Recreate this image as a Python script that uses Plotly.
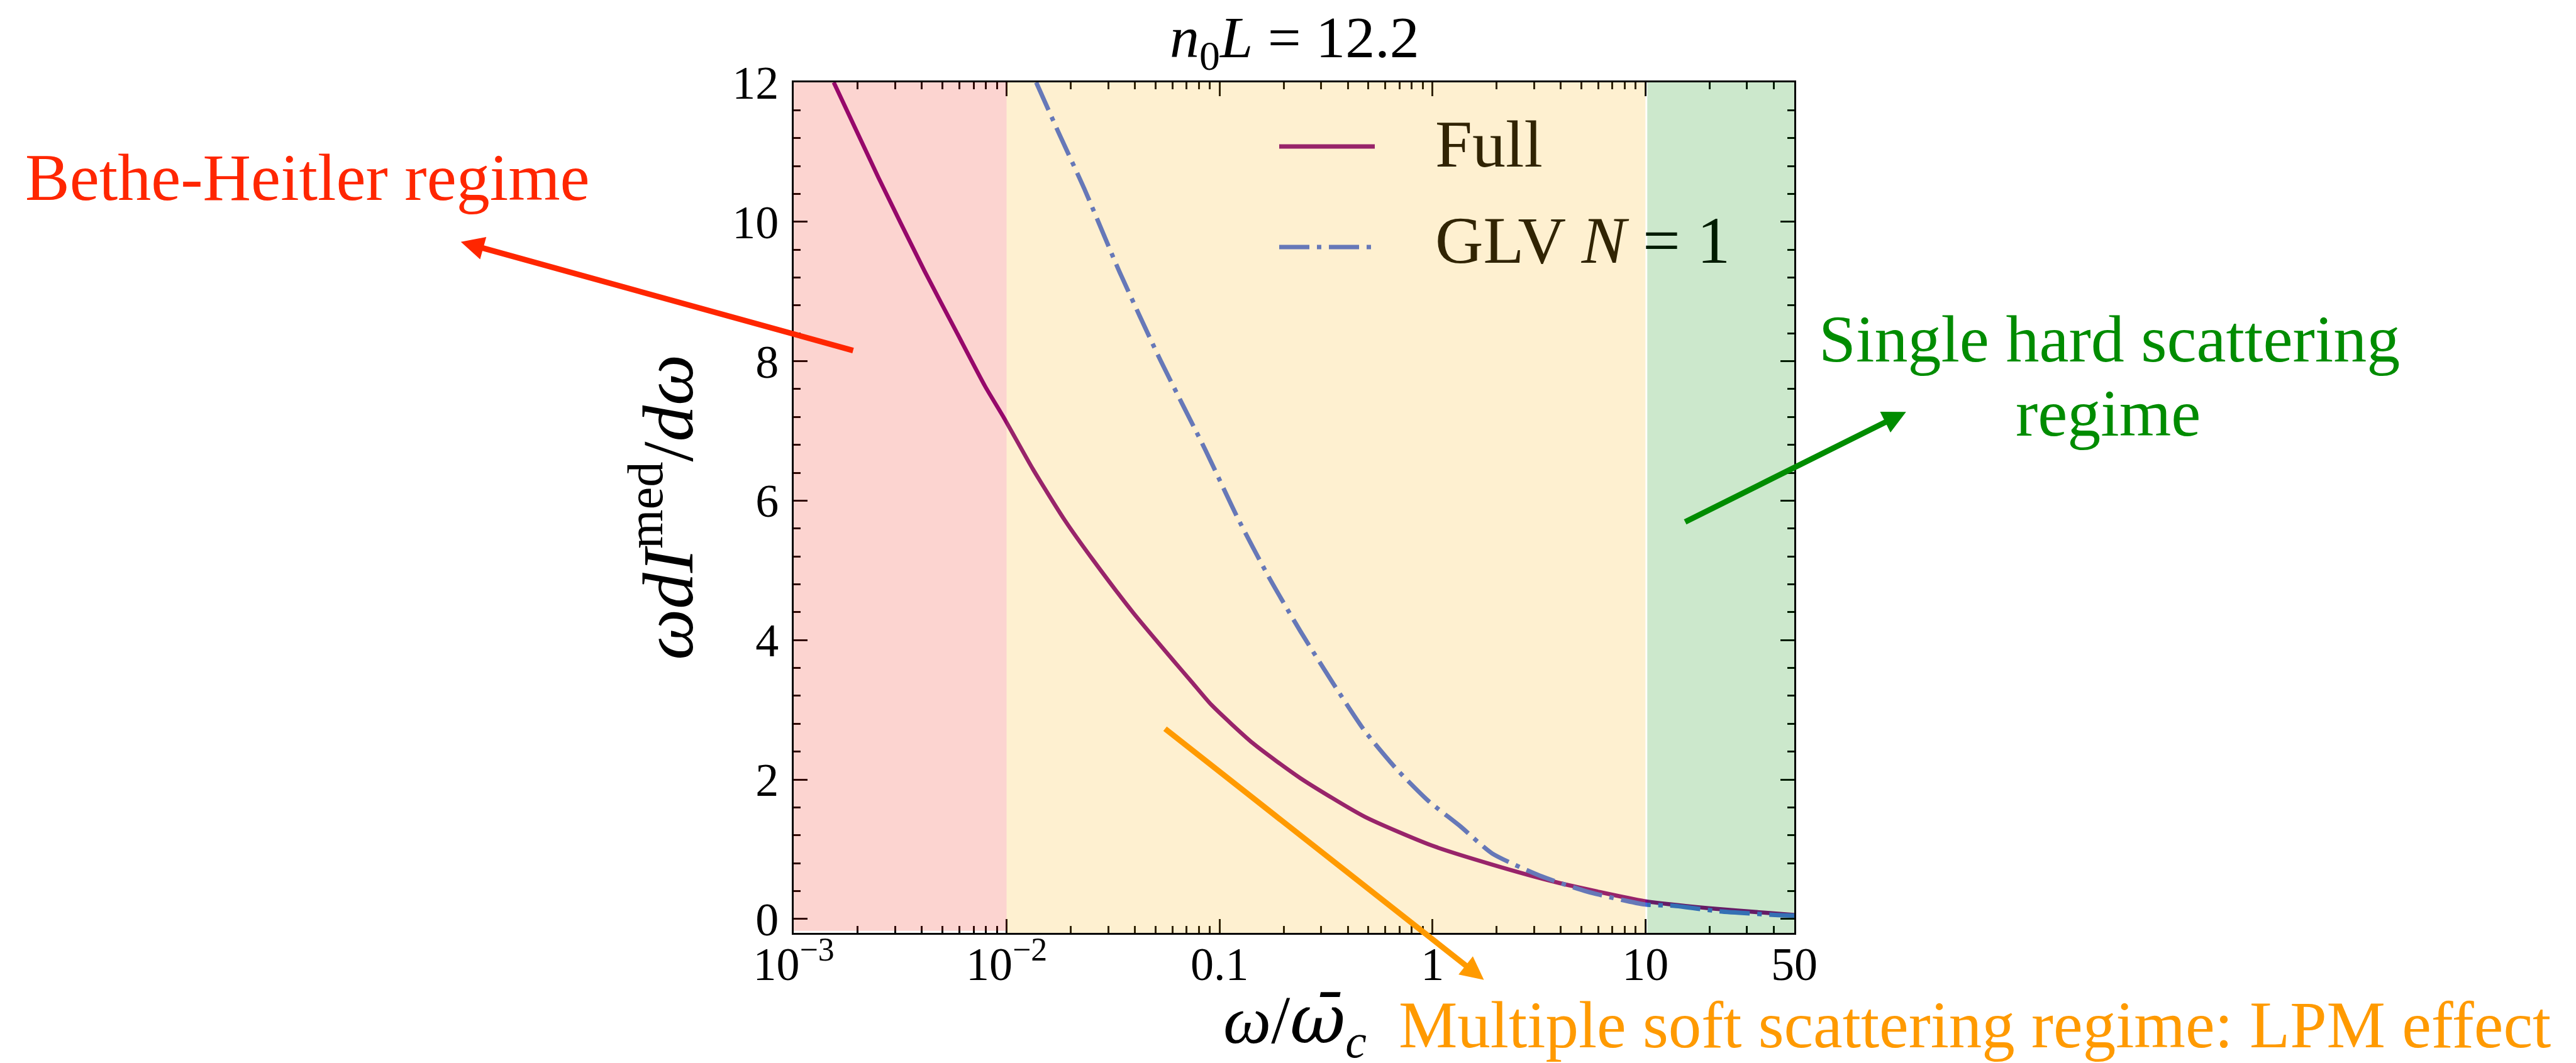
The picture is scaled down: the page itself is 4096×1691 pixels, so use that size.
import plotly.graph_objects as go

# ---------------- data ----------------
full_x = [0.001542, 0.002495, 0.004121, 0.005813, 0.007925, 0.009750, 0.01330,
          0.01875, 0.02559, 0.03936, 0.06053, 0.07447, 0.09162, 0.1434, 0.2404, 0.4797,
          0.9886, 1.905, 3.793, 9.968, 20.18, 36.81, 50.0]
full_y = [12.0, 10.64, 9.29, 8.42, 7.64, 7.18, 6.45,
          5.72, 5.14, 4.39, 3.71, 3.39, 3.07, 2.52, 2.016, 1.467,
          1.055, 0.78, 0.528, 0.254, 0.152, 0.088, 0.056]

glv_x = [0.01377, 0.01754, 0.02312, 0.03381, 0.05284, 0.08570, 0.1208, 0.1706,
         0.2404, 0.3396, 0.4797, 0.6776, 0.9550, 1.349, 1.905, 3.192, 5.358,
         9.968, 13.49, 22.23, 40.55, 50.0]
glv_y = [12.0, 11.28, 10.48, 9.29, 8.01, 6.73, 5.77, 4.90,
         4.12, 3.39, 2.70, 2.15, 1.695, 1.33, 0.94, 0.62, 0.39,
         0.207, 0.19, 0.11, 0.058, 0.048]

x_tickvals = [1e-3, 1e-2, 0.1, 1, 10, 50]
x_ticktext = ["10<sup>−3</sup>", "10<sup>−2</sup>", "0.1", "1", "10", "50"]
y_tickvals = [0, 2, 4, 6, 8, 10, 12]
y_ticktext = ["0", "2", "4", "6", "8", "10", "12"]

region_names = ["Bethe-Heitler", "LPM", "Single hard"]
region_x0 = [1e-3, 1e-2, 10.2]
region_x1 = [1e-2, 10.0, 50.0]
region_y0 = [-0.17, -0.27, -0.23]
region_y1 = [12.065, 12.0, 12.0]
region_colors = ["rgba(240,40,20,0.2)", "rgba(250,180,20,0.2)", "rgba(0,140,0,0.2)"]

PURPLE = "#800080"
BLUE = "#4169e1"
RED = "#ff2600"
GREEN = "#008c00"
ORANGE = "#ff9a00"
SERIF = "Liberation Serif, Times New Roman, serif"

minor_x = [k * 10.0 ** e for e in range(-3, 2) for k in range(2, 10) if k * 10.0 ** e < 50]

# ---------------- figure ----------------
W, H = 4096, 1691
L, R, T, B = 1254, 1251, 123, 215
PW, PH = W - L - R, H - T - B


def px2paper(px, py):
    return (px - L) / PW, (H - B - py) / PH


fig = go.Figure()
fig.add_trace(go.Scatter(x=full_x, y=full_y, mode="lines", name="Full",
                         line=dict(color=PURPLE, width=6.5, shape="spline", smoothing=0.6),
                         showlegend=False))
fig.add_trace(go.Scatter(x=glv_x, y=glv_y, mode="lines", name="GLV N = 1",
                         line=dict(color=BLUE, width=7, dash="48px,12px,7px,12px",
                                   shape="spline", smoothing=0.6),
                         showlegend=False))

shapes = []
# custom legend samples (drawn first, so the shaded regions tint them)
lx0, ly_full = px2paper(2026, 225)
lx1, _ = px2paper(2178, 225)
_, ly_glv = px2paper(2026, 385)
shapes.append(dict(type="line", xref="paper", yref="paper", x0=lx0, x1=lx1, y0=ly_full, y1=ly_full,
                   line=dict(color=PURPLE, width=7), layer="above"))
shapes.append(dict(type="line", xref="paper", yref="paper", x0=lx0, x1=lx1, y0=ly_glv, y1=ly_glv,
                   line=dict(color=BLUE, width=7, dash="48px,12px,7px,12px"), layer="above"))
for x0, x1, y0, y1, c in zip(region_x0, region_x1, region_y0, region_y1, region_colors):
    shapes.append(dict(type="rect", xref="x", yref="y", x0=x0, x1=x1, y0=y0, y1=y1,
                       fillcolor=c, line=dict(width=0), layer="above"))

ann = []


def text_ann(text, px, py, size, color="black", xanchor="center", angle=0):
    x, y = px2paper(px, py)
    ann.append(dict(text=text, x=x, y=y, xref="paper", yref="paper", showarrow=False,
                    xanchor=xanchor, yanchor="middle", textangle=angle,
                    font=dict(family=SERIF, size=size, color=color)))


def arrow_ann(head, tail, color):
    x, y = px2paper(*head)
    ann.append(dict(text="", x=x, y=y, xref="paper", yref="paper", showarrow=True,
                    ax=tail[0] - head[0], ay=tail[1] - head[1],
                    arrowhead=2, arrowsize=0.82, arrowwidth=9, arrowcolor=color,
                    standoff=7))


# title and axis titles
text_ann("<i>n</i><sub>0</sub><i>L</i> = 12.2", 2050, 58, 94)
text_ann("<i>ω</i>/<i><span style='font-family:DejaVu Serif'>ω̄</span></i><sub><i>c</i></sub>",
         2051, 1620, 108)
text_ann("<i>ωdI</i><sup>med</sup>/<i>dω</i>", 1045, 799, 115, angle=-90)

# legend texts
text_ann("Full", 2272, 222, 106, color="rgb(49,36,3)", xanchor="left")
text_ann("GLV <i>N</i> <span style='color:rgb(0,28,0)'>= 1</span>", 2272, 374, 106,
         color="rgb(49,36,3)", xanchor="left")

# regime labels
text_ann("Bethe-Heitler regime", 30, 275, 106, color=RED, xanchor="left")
text_ann("Single hard scattering", 3346, 531, 106, color=GREEN)
text_ann("regime", 3344, 649, 106, color=GREEN)
text_ann("Multiple soft scattering regime: LPM effect", 2214, 1622, 105, color=ORANGE,
         xanchor="left")

# arrows (head, tail) in output pixels
arrow_ann((718, 375), (1350, 550), RED)
arrow_ann((3029, 644), (2670, 823), GREEN)
arrow_ann((2357, 1555), (1843, 1150), ORANGE)

axis_common = dict(showline=True, linecolor="black", linewidth=3, mirror="allticks",
                   ticks="inside", ticklen=22, tickwidth=3, tickcolor="black",
                   showgrid=False, zeroline=False, layer="above traces",
                   tickfont=dict(family=SERIF, size=74, color="black"))

fig.update_layout(
    template="none",
    width=W, height=H, autosize=False,
    margin=dict(l=L, r=R, t=T, b=B),
    paper_bgcolor="white", plot_bgcolor="white",
    showlegend=False,
    shapes=shapes, annotations=ann,
    xaxis=dict(type="log", range=[-3, 1.69897], tickmode="array",
               tickvals=x_tickvals, ticktext=x_ticktext, ticklabelstandoff=-17,
               minor=dict(ticks="inside", ticklen=11, tickwidth=2.5, tickcolor="black",
                          tickmode="array", tickvals=minor_x, showgrid=False),
               **axis_common),
    yaxis=dict(range=[-0.2, 12], tickmode="array", tickvals=y_tickvals, ticktext=y_ticktext,
               ticklabelstandoff=6,
               minor=dict(ticks="inside", ticklen=11, tickwidth=2.5, tickcolor="black",
                          dtick=0.4, tick0=0, showgrid=False),
               **axis_common),
)

fig.write_html("out.html")
